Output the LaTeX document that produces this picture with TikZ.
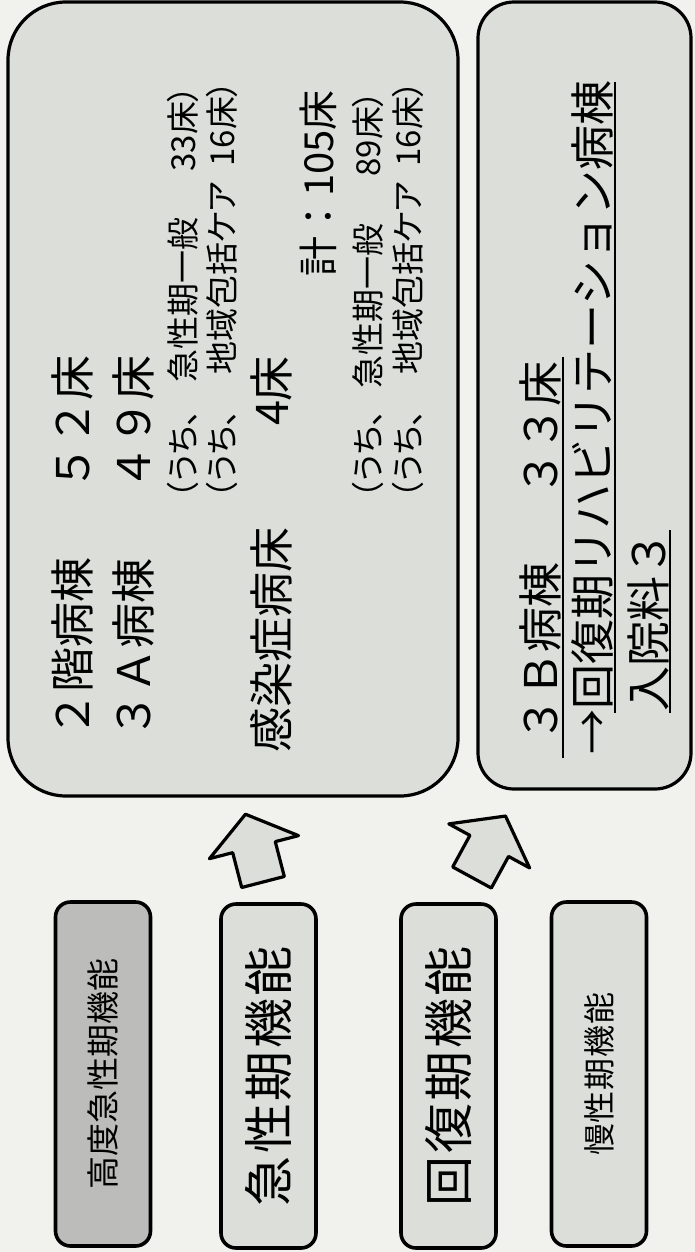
\documentclass[tikz,border=0pt]{standalone}
\usepackage{fontspec}
\newfontfamily\jp{Noto Sans CJK JP}
\newfontfamily\jpp{Noto Sans CJK JP}[RawFeature=+palt]
\definecolor{bgc}{HTML}{F1F1ED}
\definecolor{boxc}{HTML}{DCDEDA}
\definecolor{darkc}{HTML}{BCBDBA}
\begin{document}
\begin{tikzpicture}[x=0.5pt,y=-0.5pt,
  bigbox/.style={draw=black, line width=1.6pt, fill=boxc, rectangle, inner sep=0pt},
  sbox/.style={draw=black, line width=1.8pt, fill=boxc, rectangle, rounded corners=7.5pt, rotate=90,
    minimum width=172pt, minimum height=47.5pt, inner sep=0pt, text=black},
  txt/.style={rotate=90, inner sep=0pt, text=black},
  bigt/.style={txt, font=\jp\fontsize{22.5pt}{27pt}\selectfont},
  midt/.style={txt, font=\jp\fontsize{20pt}{24pt}\selectfont},
  smt/.style={txt, font=\jpp\fontsize{16.5pt}{20pt}\selectfont},
  uline/.style={draw=black, line width=1pt},
  blockarrow/.pic={\draw[line width=1.6pt, fill=boxc, line join=round]
     (0,-22) -- (36,-22) -- (36,-46) -- (70,0) -- (36,46) -- (36,22) -- (0,22) -- cycle;}
]
\useasboundingbox (0,0) rectangle (695,1252);
\fill[bgc] (0,0) rectangle (695,1252);

% large boxes
\node[bigbox, rounded corners=29pt, minimum width=225pt, minimum height=397pt] (acute) at (233,399) {};
\node[bigbox, rounded corners=18pt, minimum width=106.5pt, minimum height=393.5pt] (rehab) at (584.5,395.5) {};

% acute box text
\node[bigt] (l1a) at (72,647.5) {２階病棟};
\node[bigt] (l1b) at (72,422.5) {５２床};
\node[bigt] (l2a) at (133,648) {３Ａ病棟};
\node[bigt] (l2b) at (133,422.5) {４９床};
\node[smt] (l3a) at (183,454) {（うち、};
\node[smt] (l3b) at (183,300) {急性期一般};
\node[smt] (l3c) at (183,128.5) {33床）};
\node[smt] (l4a) at (222,454) {（うち、};
\node[smt] (l4b) at (222,278) {地域包括ケア};
\node[smt] (l4c) at (222,123.5) {16床）};
\node[bigt] (l5a) at (271,640) {感染症病床};
\node[bigt] (l5b) at (271,391) {4床};
\node[midt] (l6) at (318,183.5) {計：105床};
\node[smt] (l7a) at (368,454) {（うち、};
\node[smt] (l7b) at (368,306) {急性期一般};
\node[smt] (l7c) at (368,133.5) {89床）};
\node[smt] (l8a) at (408,454) {（うち、};
\node[smt] (l8b) at (408,278) {地域包括ケア};
\node[smt] (l8c) at (408,123.5) {16床）};

% rehab box text
\node[bigt] (r1a) at (540,652.5) {３Ｂ病棟};
\node[bigt] (r1b) at (540,428.5) {３３床};
\node[bigt] (r2) at (592,417.5) {→回復期リハビリテーション病棟};
\node[bigt] (r3) at (648,621.5) {入院料３};
\draw[uline] (563,357) -- (563,758);
\draw[uline] (615,82) -- (615,713);
\draw[uline] (670,530) -- (670,713);

% function boxes
\node[sbox, fill=darkc, font=\jp\fontsize{16.5pt}{20pt}\selectfont] (hi) at (103,1074) {高度急性期機能};
\node[sbox, font=\jp\fontsize{25pt}{30pt}\selectfont\addfontfeatures{LetterSpace=5}] (ac) at (268.5,1076) {急性期機能};
\node[sbox, font=\jp\fontsize{25pt}{30pt}\selectfont\addfontfeatures{LetterSpace=5}] (rc) at (448.5,1076) {回復期機能};
\node[sbox, font=\jp\fontsize{16pt}{19pt}\selectfont\addfontfeatures{LetterSpace=3}] (ch) at (599,1074) {慢性期機能};

% block arrows
\pic[rotate=104.5] at (263,882) {blockarrow};
\pic[rotate=61.4] at (472,877.5) {blockarrow};
\end{tikzpicture}
\end{document}
